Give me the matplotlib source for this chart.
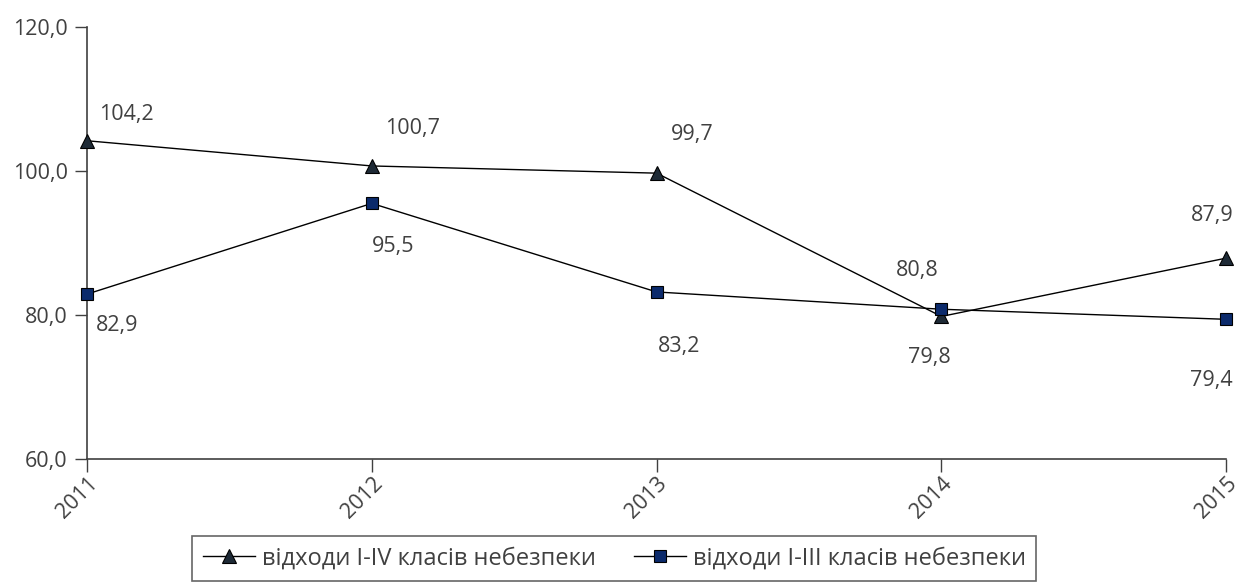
import matplotlib.pyplot as plt
from matplotlib.ticker import FuncFormatter

plt.rcParams['font.family'] = ['Open Sans', 'DejaVu Sans']

years = ["2011", "2012", "2013", "2014", "2015"]
waste_1_4 = [104.2, 100.7, 99.7, 79.8, 87.9]
waste_1_3 = [82.9, 95.5, 83.2, 80.8, 79.4]
label_1_4 = "відходи I-IV класів небезпеки"
label_1_3 = "відходи I-III класів небезпеки"

# label offsets in pixels (dx, dy)
off_1_4 = [(39, 26), (41, 37), (36, 39), (-12, -41), (-14, 43)]
off_1_3 = [(30, -31), (21, -43), (22, -55), (-24, 39), (-15, -61)]

fig = plt.figure(figsize=(12.41, 5.83), dpi=100)
ax = fig.add_axes([0.0701, 0.2127, 0.918, 0.7410])

x = list(range(len(years)))
ax.plot(x, waste_1_4, color="black", lw=1, marker="^", ms=10,
        mfc="#1e2a36", mec="black", mew=0.8, label=label_1_4, clip_on=False, zorder=3)
ax.plot(x, waste_1_3, color="black", lw=1, marker="s", ms=9,
        mfc="#0b2a6b", mec="black", mew=0.8, label=label_1_3, clip_on=False, zorder=3)

fmt = lambda v: f"{v:.1f}".replace(".", ",")
for xi, v, (dx, dy) in zip(x, waste_1_4, off_1_4):
    ax.annotate(fmt(v), (xi, v), xytext=(dx, dy), textcoords="offset pixels",
                ha="center", va="center", fontsize=15.5, color="#404040")
for xi, v, (dx, dy) in zip(x, waste_1_3, off_1_3):
    ax.annotate(fmt(v), (xi, v), xytext=(dx, dy), textcoords="offset pixels",
                ha="center", va="center", fontsize=15.5, color="#404040")

ax.set_xlim(0, len(years) - 1)
ax.set_ylim(60, 120)
ax.set_yticks([60, 80, 100, 120])
ax.yaxis.set_major_formatter(FuncFormatter(lambda v, p: fmt(v)))
ax.set_xticks(x)
ax.set_xticklabels(years, rotation=45, ha="right", rotation_mode="anchor")
ax.tick_params(axis="both", labelsize=15.5, labelcolor="#404040", color="#404040",
               length=9, width=1)
ax.tick_params(axis="y", pad=5)
ax.tick_params(axis="x", pad=1)
for s in ["top", "right"]:
    ax.spines[s].set_visible(False)
for s in ["left", "bottom"]:
    ax.spines[s].set_color("#404040")
    ax.spines[s].set_linewidth(1.2)

leg = fig.legend(loc="lower center", bbox_to_anchor=(0.495, 0.003), ncol=2,
                 fontsize=17, frameon=True, fancybox=False, handlelength=2.2,
                 handletextpad=0.3, columnspacing=1.6, borderpad=0.45,
                 borderaxespad=0)
leg.get_frame().set_edgecolor("#404040")
leg.get_frame().set_linewidth(1.2)
for t in leg.get_texts():
    t.set_color("#404040")

fig.savefig("out.png", dpi=100)
